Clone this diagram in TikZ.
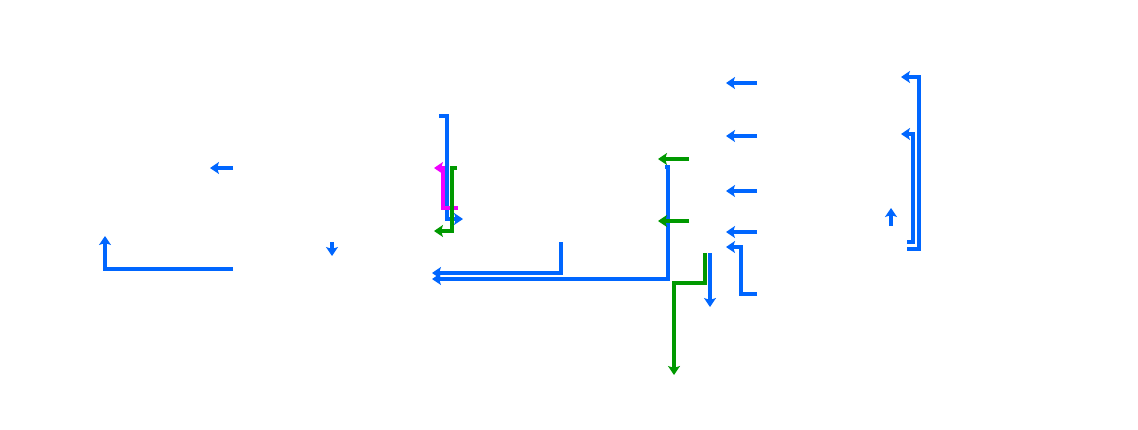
\documentclass[tikz,border=0pt]{standalone}
\usetikzlibrary{arrows.meta}
\definecolor{cblue}{RGB}{0,102,255}
\definecolor{cgreen}{RGB}{0,153,0}
\definecolor{cmag}{RGB}{240,0,255}
\tikzset{
  conn/.style={line width=3.2pt,-{Stealth[length=9pt,width=12pt,inset=2pt]}},
  bl/.style={conn,draw=cblue},
  gr/.style={conn,draw=cgreen},
  mg/.style={conn,draw=cmag},
}
\begin{document}
\begin{tikzpicture}[x=1pt,y=-1pt]
\useasboundingbox (0,0) rectangle (1138,429);
% left group
\coordinate (a1) at (233,168); \coordinate (a2) at (210,168);
\coordinate (b1) at (233,269); \coordinate (b2) at (105,236);
\coordinate (c1) at (332,242); \coordinate (c2) at (332,256);
\draw[bl] (a1) -- (a2);
\draw[bl] (b1) -| (b2);
\draw[bl] (c1) -- (c2);
% middle group
\coordinate (d1) at (439,116); \coordinate (d2) at (463,219);
\draw[bl] (d1) -- (447,116) |- (d2);
\coordinate (e1) at (458,208); \coordinate (e2) at (434,168);
\draw[mg] (e1) -- (443,208) |- (e2);
\coordinate (f1) at (457,168); \coordinate (f2) at (434,231);
\draw[gr] (f1) -- (452,168) |- (f2);
\coordinate (g1) at (561,242); \coordinate (g2) at (432,273);
\draw[bl] (g1) |- (g2);
\coordinate (h1) at (665,167); \coordinate (h2) at (432,279);
\draw[bl] (h1) -- (668,167) |- (h2);
% right-middle group
\coordinate (i1) at (689,159); \coordinate (i2) at (658,159);
\coordinate (j1) at (689,221); \coordinate (j2) at (658,221);
\draw[gr] (i1) -- (i2);
\draw[gr] (j1) -- (j2);
\coordinate (k1) at (705,253); \coordinate (k2) at (674,375);
\draw[gr] (k1) -- (705,283) -| (k2);
\coordinate (l1) at (710,253); \coordinate (l2) at (710,307);
\draw[bl] (l1) -- (l2);
\foreach \y/\n in {83/m,136/n,191/o,232/p}{
  \coordinate (\n1) at (757,\y); \coordinate (\n2) at (726,\y);
  \draw[bl] (\n1) -- (\n2);
}
\coordinate (q1) at (757,294); \coordinate (q2) at (726,247);
\draw[bl] (q1) -| (741,247) -- (q2);
% far right group
\coordinate (r1) at (907,249); \coordinate (r2) at (901,77);
\draw[bl] (r1) -- (919,249) |- (r2);
\coordinate (s1) at (907,242); \coordinate (s2) at (901,134);
\draw[bl] (s1) -- (913,242) |- (s2);
\coordinate (t1) at (891,226); \coordinate (t2) at (891,208);
\draw[bl] (t1) -- (t2);
\end{tikzpicture}
\end{document}
